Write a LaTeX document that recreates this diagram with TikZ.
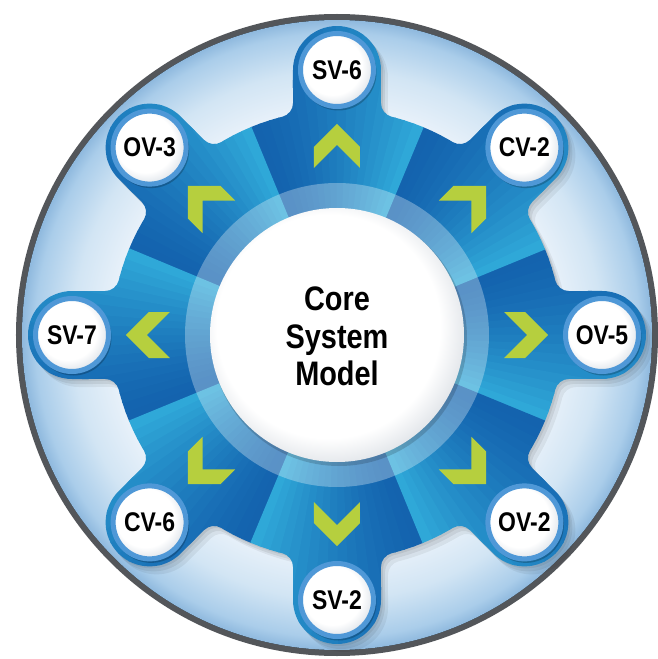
\documentclass[tikz,border=0pt]{standalone}
\usepackage{fontspec}
\newfontfamily\lblfont[FakeStretch=0.85]{Liberation Sans}

\definecolor{ringgray}{HTML}{53565A}
\definecolor{bgA}{HTML}{EAF2FA}
\definecolor{bgB}{HTML}{D2E5F4}
\definecolor{bgC}{HTML}{AACDEA}
\definecolor{bgD}{HTML}{8FB9DE}
\definecolor{sectdark}{HTML}{1463AE}
\definecolor{sectlight}{HTML}{2FA8D8}
\definecolor{rimblue}{HTML}{4F98D7}
\definecolor{discgray}{HTML}{D5DCE4}
\definecolor{coregray}{HTML}{DDE1E6}
\definecolor{chevgreen}{HTML}{B6CF3E}

% light blue disc behind the gear: flat near the middle, bluer towards the rim
\pgfdeclareradialshading{bgdisc}{\pgfpoint{0bp}{0bp}}{%
  color(0bp)=(bgA); color(17.5bp)=(bgA); color(21bp)=(bgB);
  color(24bp)=(bgC); color(25bp)=(bgD); color(50bp)=(bgD)}
% white discs, greying only close to the lower right edge
\pgfdeclareradialshading{discshade}{\pgfpoint{-5bp}{5bp}}{%
  color(0bp)=(white); color(20bp)=(white); color(30bp)=(discgray); color(50bp)=(discgray)}
\pgfdeclareradialshading{coreshade}{\pgfpoint{-3bp}{3bp}}{%
  color(0bp)=(white); color(22bp)=(white); color(28bp)=(coregray); color(50bp)=(coregray)}

\begin{document}
\begin{tikzpicture}[x=1pt,y=1pt,
  % outline of the eight-lobed gear: body r=225, lobes at r=265 with r=44 caps, r=14 fillets
  gearpath/.style={insert path={(-14.045:225)
    \foreach \a in {0,45,...,315}{
      arc[start angle={165.955+\a}, end angle={90+\a}, radius=14]
      -- ({\a-9.427}:268.63)
      arc[start angle={\a-90}, end angle={\a+90}, radius=44]
      -- ({\a+10.745}:235.99)
      arc[start angle={\a+270}, end angle={\a+194.045}, radius=14]
      arc[start angle={\a+14.045}, end angle={\a+30.955}, radius=225]
    } -- cycle}},
  labeldisc/.style={circle, minimum size=73pt, inner sep=0pt,
    draw=rimblue, line width=5pt, shading=discshade,
    font=\lblfont\bfseries\fontsize{27}{27}\selectfont, text=black},
  coretext/.style={anchor=base, inner sep=0pt,
    font=\lblfont\bfseries\fontsize{34}{34}\selectfont, text=black},
  chevron/.style={fill=chevgreen},
]
\useasboundingbox (-337,-324) rectangle (320,335);

% outer rim and light disc
\fill[ringgray] (0,0) circle[radius=321];
\fill[shading=bgdisc] (0,0) circle[radius=315];

% soft shadow of the gear
\fill[black, opacity=0.07, shift={(2,-2)}, gearpath];
\fill[black, opacity=0.07, shift={(4,-5)}, gearpath];
\fill[black, opacity=0.06, shift={(7,-8)}, gearpath];

% gear body: eight sectors, each shaded from dark (ccw edge) to light (cw edge)
\begin{scope}
  \clip[gearpath];
  \foreach \a in {0,45,...,315}{
    \foreach \k in {0,...,17}{
      \pgfmathsetmacro\p{100*(\k/17)^1.4}
      \pgfmathsetmacro\s{\a+22.5-2.5*\k}
      \fill[sectlight!\p!sectdark] (0,0) -- ({\s+0.15}:320)
        arc[start angle={\s+0.15}, end angle={\s-2.65}, radius=320] -- cycle;
    }
  }
\end{scope}

% translucent ring round the core
\fill[white, opacity=0.3] (0,0) circle[radius=152];
\fill[black, opacity=0.16] (2,-3) circle[radius=128];

% core disc
\node[circle, minimum size=254pt, inner sep=0pt, shading=coreshade] (core) at (0,0) {};
\node[coretext] (coreA) at (0,24) {Core};
\node[coretext] (coreB) at (0,-13) {System};
\node[coretext] (coreC) at (0,-50) {Model};

% chevrons pointing out towards each lobe
\foreach \a in {0,45,...,315}{
  \fill[chevron, rotate=\a] (211,0) -- (188,23) -- (167,23) -- (190,0)
    -- (167,-23) -- (188,-23) -- cycle;
}

% shadows under the label discs
\foreach \a in {0,45,...,315}{
  \fill[black, opacity=0.22, shift={(1.5,-2.5)}] (\a:265) circle[radius=38];
}

% label discs
\node[labeldisc] (sv6) at (90:265) {SV-6};
\node[labeldisc] (cv2) at (45:265) {CV-2};
\node[labeldisc] (ov5) at (0:265) {OV-5};
\node[labeldisc] (ov2) at (-45:265) {OV-2};
\node[labeldisc] (sv2) at (-90:265) {SV-2};
\node[labeldisc] (cv6) at (-135:265) {CV-6};
\node[labeldisc] (sv7) at (180:265) {SV-7};
\node[labeldisc] (ov3) at (135:265) {OV-3};
\end{tikzpicture}
\end{document}
